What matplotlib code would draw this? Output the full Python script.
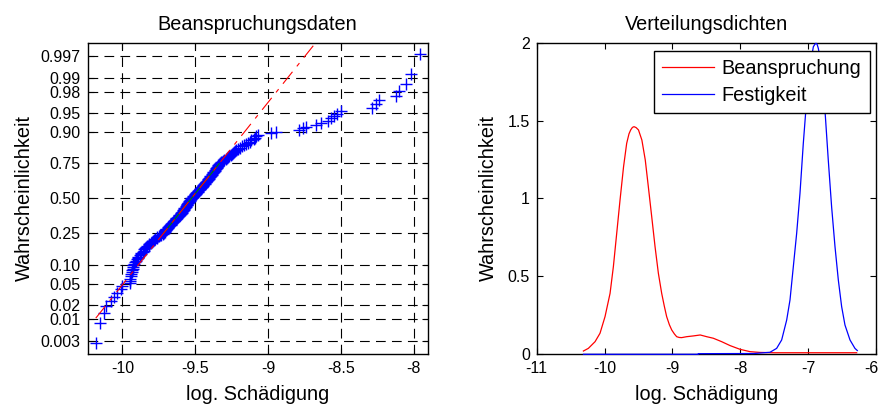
import matplotlib
matplotlib.use('Agg')
import matplotlib.pyplot as plt
import matplotlib.transforms as mtransforms
import numpy as np
from statistics import NormalDist

plt.rcParams['font.family'] = ['Liberation Sans', 'DejaVu Sans']
plt.rcParams['lines.scale_dashes'] = False

# ---------------- data: left panel (sorted log. damage values) ----------------
stress_data = [
    # lower tail
    -10.183, -10.152, -10.129, -10.113, -10.080, -10.058, -10.035, -10.012, -10.000,
    # column near 0.05-0.10
    -9.950, -9.945, -9.945, -9.940, -9.940, -9.935, -9.935, -9.930, -9.930, -9.925, -9.920,
    -9.915, -9.910, -9.900, -9.895, -9.890, -9.880, -9.875, -9.870, -9.860, -9.855, -9.850, -9.845,
    -9.840, -9.830, -9.820, -9.815, -9.805, -9.800, -9.790, -9.780, -9.775, -9.765, -9.760, -9.750,
    -9.740, -9.733, -9.722,
    -9.716, -9.711, -9.706, -9.702, -9.698, -9.693, -9.688, -9.684, -9.679, -9.674, -9.669, -9.664,
    -9.659, -9.654, -9.649, -9.644, -9.639, -9.634, -9.629, -9.624, -9.619, -9.614, -9.609, -9.604,
    -9.600, -9.597, -9.594, -9.590, -9.587, -9.584, -9.580, -9.577, -9.574, -9.570, -9.567, -9.564,
    -9.560, -9.557, -9.554, -9.550, -9.547, -9.544, -9.540, -9.537, -9.534, -9.530, -9.527,
    -9.523, -9.519, -9.515, -9.510, -9.505, -9.500, -9.496, -9.492, -9.488, -9.484, -9.480, -9.475,
    -9.470, -9.466, -9.462, -9.457, -9.452, -9.448, -9.444, -9.440, -9.435, -9.431,
    -9.428, -9.424, -9.420, -9.416, -9.412, -9.408, -9.404, -9.400, -9.396, -9.392, -9.388, -9.384,
    -9.380, -9.376, -9.372, -9.368, -9.364, -9.360, -9.356, -9.352, -9.348, -9.344, -9.341, -9.338,
    -9.333, -9.325, -9.317, -9.308, -9.300, -9.292, -9.283, -9.275, -9.267, -9.258, -9.250, -9.242,
    -9.233, -9.225,
    -9.220, -9.205, -9.190, -9.180, -9.165, -9.150, -9.140, -9.125, -9.115, -9.100, -9.090, -9.080,
    -9.070,
    # upper tail
    -8.980, -8.947,
    -8.787, -8.764, -8.740, -8.670, -8.640, -8.590, -8.570, -8.550, -8.528, -8.500,
    -8.290, -8.260, -8.237, -8.122, -8.099, -8.053, -8.023, -7.961,
]
prob_ticks = [0.003, 0.01, 0.02, 0.05, 0.10, 0.25, 0.50, 0.75, 0.90, 0.95, 0.98, 0.99, 0.997]
prob_labels = ['0.003', '0.01', '0.02', '0.05', '0.10', '0.25', '0.50', '0.75',
               '0.90', '0.95', '0.98', '0.99', '0.997']
left_xticks = [-10, -9.5, -9, -8.5, -8]
left_xticklabels = ['-10', '-9.5', '-9', '-8.5', '-8']

# ---------------- data: right panel (density curves) ----------------
stress_x = [-10.312, -10.239, -10.14, -10.067, -9.993, -9.919, -9.87, -9.821, -9.772, -9.72,
            -9.674, -9.64, -9.615, -9.59, -9.566, -9.535, -9.50, -9.45, -9.40, -9.355, -9.305,
            -9.256, -9.207, -9.158, -9.12, -9.085, -9.045, -9.01, -8.97, -8.937, -8.90, -8.864,
            -8.79, -8.69, -8.59, -8.495, -8.397, -8.274, -8.151, -8.004, -7.857, -7.71, -7.5,
            -7.0, -6.5, -6.285]
stress_y = [0.021, 0.038, 0.081, 0.135, 0.242, 0.391, 0.563, 0.776, 0.99, 1.204,
            1.354, 1.415, 1.44, 1.456, 1.461, 1.455, 1.44, 1.375, 1.247, 1.076, 0.883,
            0.691, 0.52, 0.391, 0.31, 0.242, 0.19, 0.156, 0.13, 0.113, 0.108, 0.107,
            0.113, 0.118, 0.124, 0.113, 0.103, 0.081, 0.056, 0.032, 0.017, 0.012, 0.01,
            0.01, 0.01, 0.01]
strength_x = [-10.31, -8.62, -8.618, -7.8, -7.562, -7.464, -7.39, -7.316, -7.267, -7.218,
              -7.169, -7.12, -7.071, -7.022, -6.973, -6.923, -6.900, -6.884, -6.868, -6.85,
              -6.80, -6.752, -6.703, -6.654, -6.604, -6.555, -6.506, -6.457, -6.383, -6.31,
              -6.275]
strength_y = [0.0, 0.0, 0.004, 0.005, 0.013, 0.038, 0.092, 0.22, 0.349, 0.563,
              0.776, 1.033, 1.354, 1.632, 1.846, 1.974, 1.99, 1.996, 1.99, 1.964,
              1.846, 1.568, 1.247, 0.948, 0.691, 0.477, 0.306, 0.188, 0.092, 0.038,
              0.024]
right_xticks = [-11, -10, -9, -8, -7, -6]
right_yticks = [0, 0.5, 1, 1.5, 2]
right_yticklabels = ['0', '0.5', '1', '1.5', '2']

# ---------------- figure ----------------
fig = plt.figure(figsize=(8.81, 4.05), dpi=100)
ax1 = fig.add_axes([0.0995, 0.1252, 0.3859, 0.7694])
ax2 = fig.add_axes([0.6092, 0.1252, 0.3851, 0.7694])

TICK_FS = 11.5
LAB_FS = 14.3

nd = NormalDist()
data = np.sort(np.array(stress_data))
n = len(data)
zpos = np.array([nd.inv_cdf((i + 0.5) / n) for i in range(n)])

# markers
ax1.plot(data, zpos, '+', color=(0, 0, 1), markersize=9, markeredgewidth=1.0, zorder=3)
# quartile line (solid) and extension (dash-dot)
q1, q3 = np.percentile(data, [25, 75])
zq1, zq3 = nd.inv_cdf(0.25), nd.inv_cdf(0.75)
slope = (zq3 - zq1) / (q3 - q1)
xmin, xmax = data.min(), data.max()
ax1.plot([q1, q3], [zq1, zq3], '-', color=(0, 0.5, 0), linewidth=0.8, zorder=4)
ax1.plot([xmin, xmax], [zq1 + slope * (xmin - q1), zq1 + slope * (xmax - q1)],
         color=(1, 0, 0), linewidth=0.8, linestyle=(0, (11, 5, 3, 5)), zorder=5)

rng = xmax - xmin
ax1.set_xlim(xmin - 0.025 * rng, xmax + 0.025 * rng)
ax1.set_ylim(nd.inv_cdf(0.25 / n), nd.inv_cdf(1 - 0.25 / n))
ax1.set_yticks([nd.inv_cdf(p) for p in prob_ticks])
ax1.set_yticklabels(prob_labels)
ax1.set_xticks(left_xticks)
ax1.set_xticklabels(left_xticklabels)
ax1.grid(True, color='k', linestyle=(0, (7, 4.5)), linewidth=0.8)
ax1.set_axisbelow(True)
ax1.set_title('Beanspruchungsdaten', fontsize=LAB_FS, pad=9)
ax1.set_xlabel('log. Schädigung', fontsize=LAB_FS, labelpad=6)
ax1.set_ylabel('Wahrscheinlichkeit', fontsize=LAB_FS, labelpad=5)

# right panel
l1, = ax2.plot(stress_x, stress_y, color=(1, 0, 0), linewidth=0.9, zorder=3, clip_on=False)
l2, = ax2.plot(strength_x, strength_y, color=(0, 0, 1), linewidth=0.9, zorder=3, clip_on=False)
ax2.set_xlim(-11, -6)
ax2.set_ylim(0, 2)
ax2.set_xticks(right_xticks)
ax2.set_xticklabels([str(t) for t in right_xticks])
ax2.set_yticks(right_yticks)
ax2.set_yticklabels(right_yticklabels)
ax2.set_title('Verteilungsdichten', fontsize=LAB_FS, pad=9)
ax2.set_xlabel('log. Schädigung', fontsize=LAB_FS, labelpad=6)
ax2.set_ylabel('Wahrscheinlichkeit', fontsize=LAB_FS, labelpad=7)
leg = ax2.legend([l1, l2], ['Beanspruchung', 'Festigkeit'], loc='upper right',
                 fontsize=LAB_FS, frameon=True, fancybox=False, borderpad=0.4,
                 labelspacing=0.38, handlelength=2.6, handletextpad=0.4,
                 bbox_to_anchor=(0.981, 0.972), borderaxespad=0.0)
leg.set_zorder(10)
leg.get_frame().set_edgecolor('k')
leg.get_frame().set_linewidth(1.0)
leg.get_frame().set_facecolor('white')
leg.get_frame().set_alpha(1.0)

for ax in (ax1, ax2):
    ax.tick_params(direction='in', length=4, width=0.8, top=True, right=True,
                   labelsize=TICK_FS, colors='k', pad=5)
    for s in ax.spines.values():
        s.set_linewidth(1.0)
        s.set_color('k')

# keep the last x tick label of the right panel inside the canvas
fig.canvas.draw()
last = ax2.get_xticklabels()[-1]
last.set_transform(last.get_transform() +
                   mtransforms.ScaledTranslation(-5 / 100, 0, fig.dpi_scale_trans))

fig.savefig('out.png', dpi=100)
